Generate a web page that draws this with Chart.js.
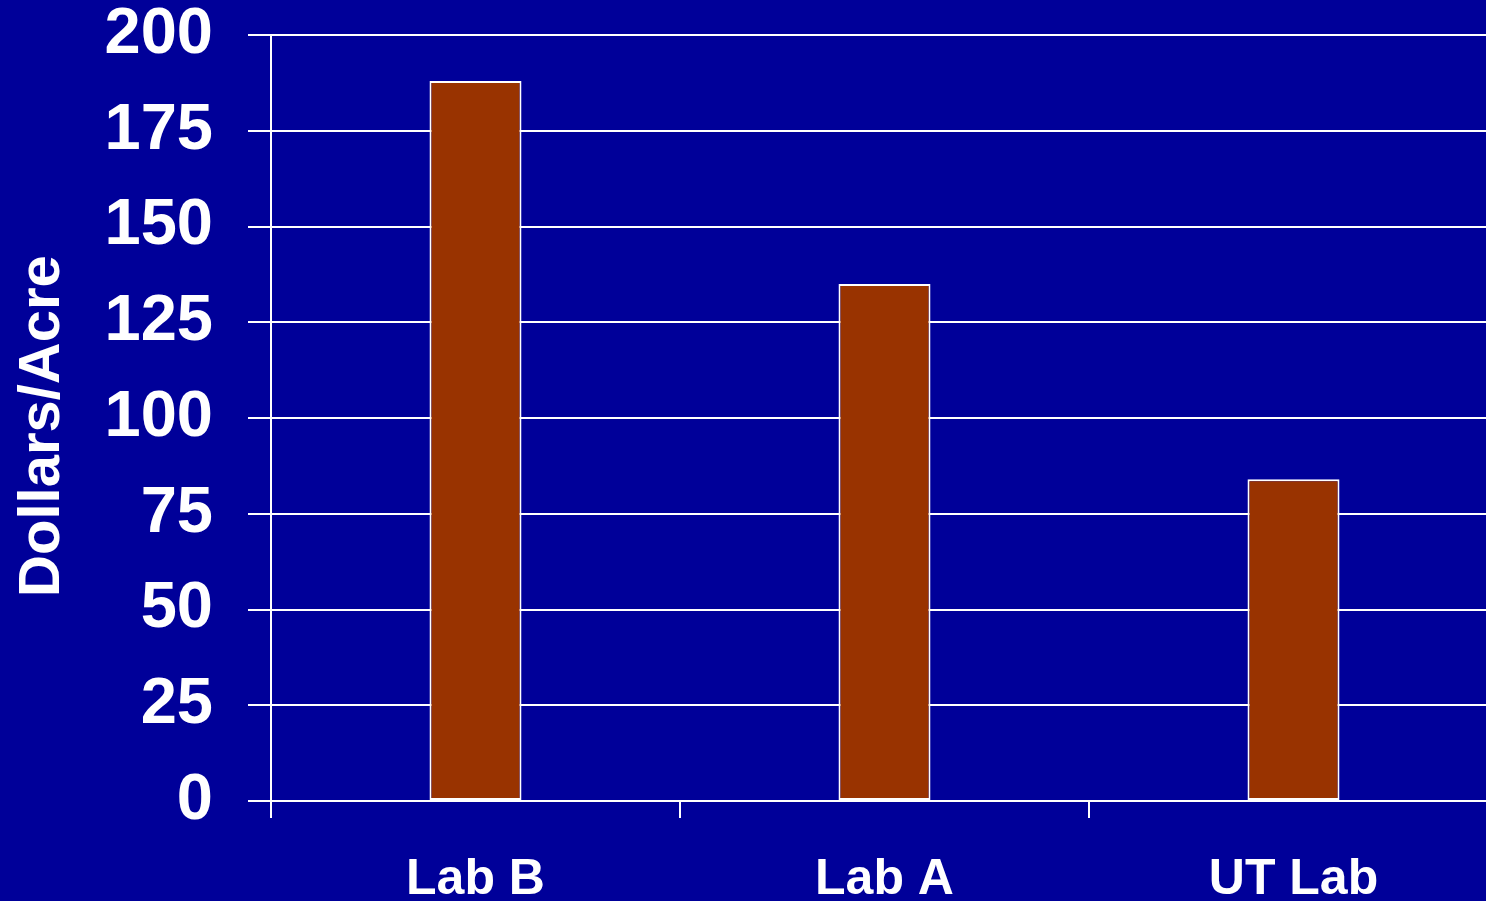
<!DOCTYPE html>
<html>
<head>
<meta charset="utf-8">
<script src="https://cdn.jsdelivr.net/npm/chart.js@4.4.0/dist/chart.umd.min.js"></script>
<style>
  html, body { margin: 0; padding: 0; background: #000099; overflow: hidden; }
  #wrap { width: 1498px; height: 901px; position: relative; }
</style>
</head>
<body>
<div id="wrap"><canvas id="costChart"></canvas></div>
<script>
'use strict';

/* --- Data --- */
const labs = ['Lab B', 'Lab A', 'UT Lab'];
const dollarsPerAcre = [188, 135, 84];
const yTicks = [0, 25, 50, 75, 100, 125, 150, 175, 200];

const FONT = "'Liberation Sans', Arial, sans-serif";

new Chart(document.getElementById('costChart'), {
  type: 'bar',
  data: {
    labels: labs,
    datasets: [{
      label: 'Dollars/Acre',
      data: dollarsPerAcre,
      backgroundColor: '#993300',
      borderColor: '#ffffff',
      borderWidth: 2,
      borderSkipped: false,
      categoryPercentage: 1,
      barPercentage: 0.225
    }]
  },
  options: {
    responsive: true, maintainAspectRatio: false,
    animation: false,
    layout: { padding: { top: 35, left: 0, right: 0, bottom: 0 } },
    plugins: { legend: { display: false }, tooltip: { enabled: false } },
    scales: {
      x: {
        offset: true,
        grid: { offset: true, drawOnChartArea: false, color: '#ffffff', lineWidth: 2, tickLength: 17, tickColor: '#ffffff' },
        border: { color: '#ffffff', width: 2 },
        ticks: { color: '#ffffff', font: { family: FONT, size: 50, weight: 'bold' }, padding: 32, maxRotation: 0 },
        afterFit: s => { s.height = 100; s.paddingLeft = 0; s.paddingRight = 0; }
      },
      y: {
        min: 0, max: 200,
        afterBuildTicks: s => { s.ticks = yTicks.map(v => ({ value: v })); },
        grid: { color: '#ffffff', lineWidth: 2, tickLength: 23, tickColor: '#ffffff' },
        border: { color: '#ffffff', width: 2 },
        ticks: { color: '#ffffff', font: { family: FONT, size: 65, weight: 'bold' }, padding: 35 },
        title: {
          display: true, text: 'Dollars/Acre ', color: '#ffffff',
          font: { family: FONT, size: 58, weight: 'bold' }, padding: { top: 8, bottom: 0 }
        },
        afterFit: s => { s.width = 271; s.paddingTop = 0; s.paddingBottom = 0; }
      }
    }
  }
});
</script>
</body>
</html>
